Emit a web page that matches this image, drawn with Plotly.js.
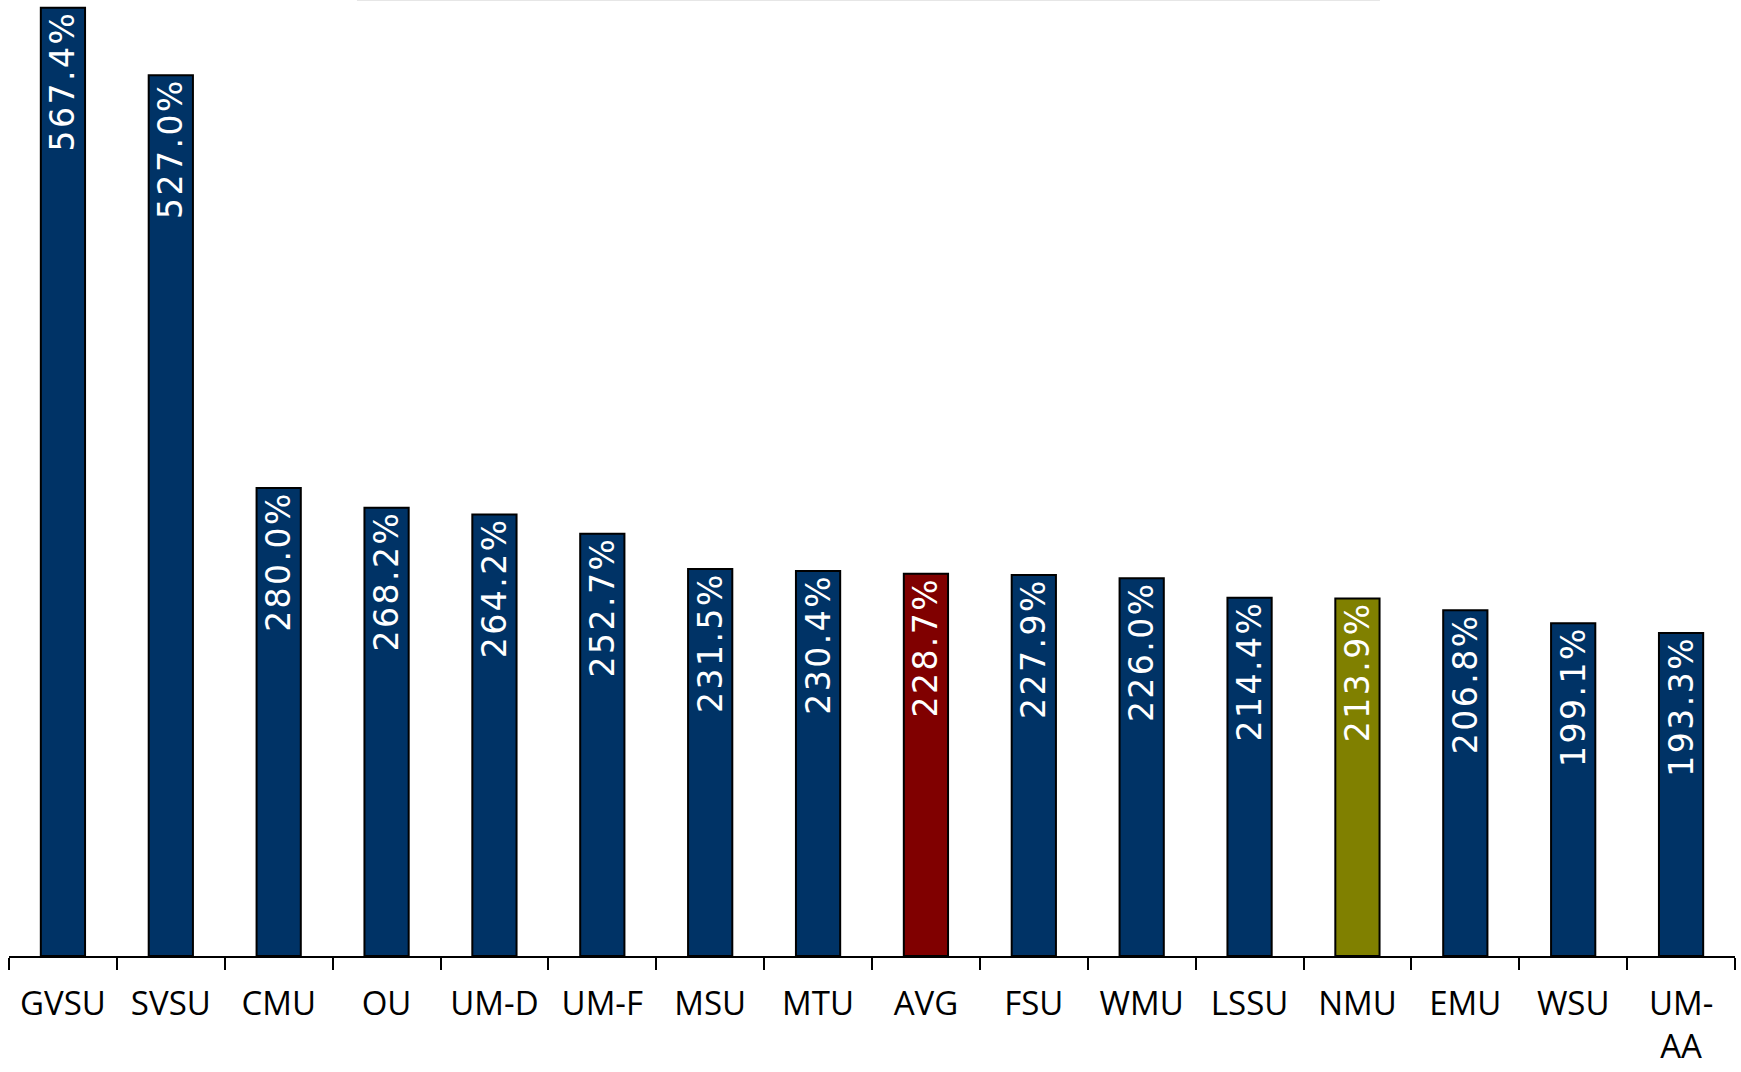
<!DOCTYPE html>
<html>
<head>
<meta charset="utf-8">
<script src="https://cdn.plot.ly/plotly-3.0.1.min.js"></script>
<style>
  html, body { margin: 0; padding: 0; background: #ffffff; }
  #chart { width: 1741px; height: 1072px; }
  .bartext { letter-spacing: 2.5px; }
</style>
</head>
<body>
<div id="chart"></div>
<script>
// Data
const categories = ["GVSU", "SVSU", "CMU", "OU", "UM-D", "UM-F", "MSU", "MTU", "AVG", "FSU", "WMU", "LSSU", "NMU", "EMU", "WSU", "UM-AA"];
const tickLabels = ["GVSU", "SVSU", "CMU", "OU", "UM-D", "UM-F", "MSU", "MTU", "AVG", "FSU", "WMU", "LSSU", "NMU", "EMU", "WSU", "UM-<br>AA"];
const values = [567.4, 527.0, 280.0, 268.2, 264.2, 252.7, 231.5, 230.4, 228.7, 227.9, 226.0, 214.4, 213.9, 206.8, 199.1, 193.3];
const barColors = ["#003366", "#003366", "#003366", "#003366", "#003366", "#003366", "#003366", "#003366", "#800000", "#003366", "#003366", "#003366", "#808000", "#003366", "#003366", "#003366"];

const labels = values.map(v => v.toFixed(1) + "%");

const trace = {
  type: "bar",
  x: categories,
  y: values,
  text: labels,
  textposition: "inside",
  insidetextanchor: "end",
  textangle: -90,
  textfont: { family: "DejaVu Sans", size: 33, color: "#ffffff" },
  constraintext: "none",
  cliponaxis: false,
  width: 0.41,
  marker: { color: barColors, line: { color: "#000000", width: 2 } },
  hoverinfo: "x+y"
};

const layout = {
  width: 1741,
  height: 1072,
  margin: { l: 9, r: 6, t: 0, b: 116, pad: 0 },
  paper_bgcolor: "#ffffff",
  plot_bgcolor: "#ffffff",
  showlegend: false,
  xaxis: {
    type: "category",
    tickmode: "array",
    tickvals: categories,
    ticktext: tickLabels,
    tickson: "boundaries",
    ticks: "outside",
    ticklen: 12,
    tickwidth: 2,
    tickcolor: "#000000",
    showline: true,
    linecolor: "#000000",
    linewidth: 2,
    showgrid: false,
    zeroline: false,
    range: [-0.5, 15.5],
    tickangle: 0,
    ticklabelstandoff: 17,
    tickfont: { family: "Open Sans", size: 33, color: "#000000" }
  },
  yaxis: {
    range: [0, 572],
    visible: false,
    showgrid: false,
    zeroline: false
  },
  shapes: [
    {
      type: "line", xref: "paper", yref: "paper",
      x0: 0.2016, x1: 0.7943, y0: 1, y1: 1,
      line: { color: "#e6e6e6", width: 2 }
    }
  ]
};

Plotly.newPlot("chart", [trace], layout, { displayModeBar: false, staticPlot: true });
</script>
</body>
</html>
